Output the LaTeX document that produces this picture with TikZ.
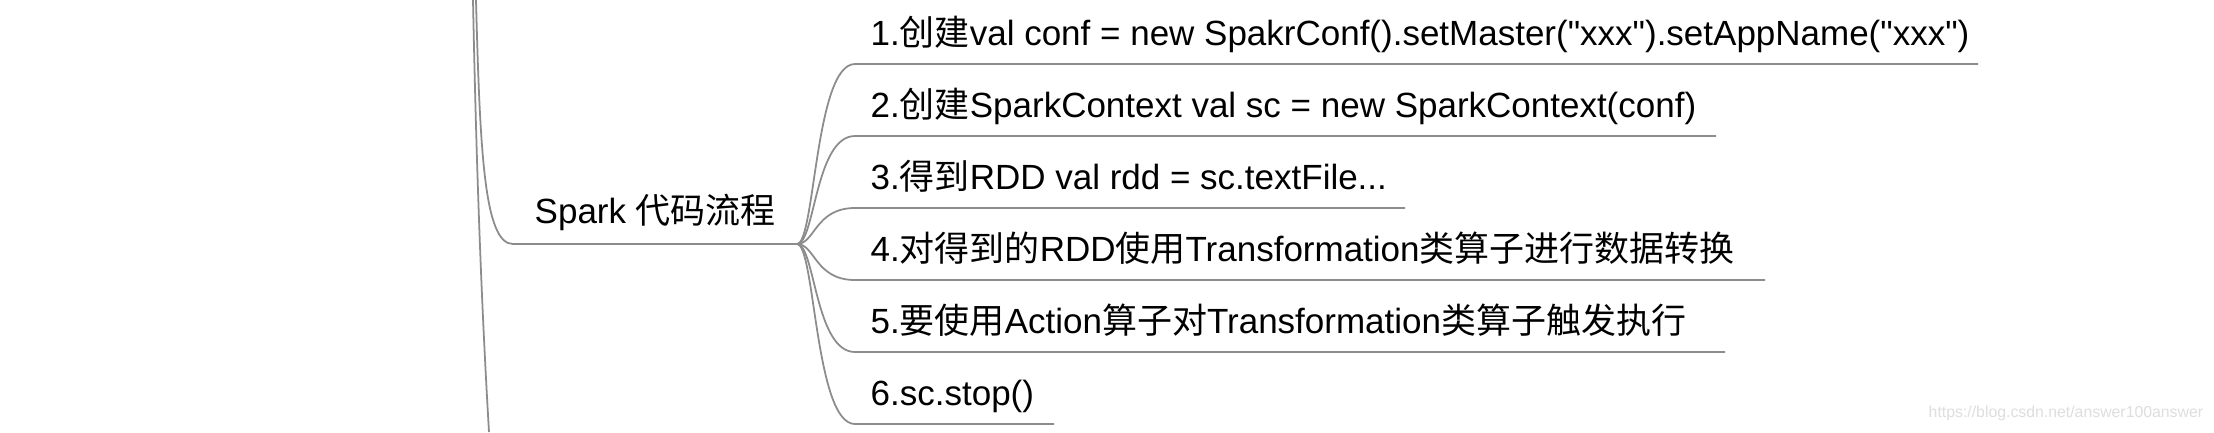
\documentclass[tikz,border=0pt]{standalone}
\usepackage{fontspec}
\setmainfont{Liberation Sans}[Ligatures=TeXOff]
\newfontfamily\cjk{Noto Sans CJK SC}
\definecolor{linegray}{RGB}{140,140,140}
\definecolor{wmgray}{RGB}{222,222,222}
\tikzset{
  branch/.style={draw=linegray, line width=0.5pt},
  lbl/.style={anchor=base west, inner sep=0pt, font=\fontsize{9.95pt}{12pt}\selectfont, text=black},
  wm/.style={anchor=base west, inner sep=0pt, font=\fontsize{4.5pt}{5.5pt}\selectfont, text=wmgray}
}
\begin{document}
\begin{tikzpicture}[x=0.01cm, y=-0.01cm]
\useasboundingbox[fill=white] (0,0) rectangle (2214,432);

% parent branches
\coordinate (ptopA) at (476,0);
\coordinate (ptopB) at (473,0);
\coordinate (pbot) at (489,432);
\coordinate (sparkL) at (513,244);
\coordinate (jct) at (797,244);
\draw[branch] (ptopA) .. controls (480,150) and (484,244) .. (sparkL) -- (jct);
\draw[branch] (ptopB) .. controls (477,200) and (483,330) .. (pbot);
\node[lbl] (spark) at (534,223) {Spark {\cjk 代码流程}};

% children underline coordinates
\coordinate (s1) at (855,64);   \coordinate (e1) at (1978,64);
\coordinate (s2) at (855,136);  \coordinate (e2) at (1716,136);
\coordinate (s3) at (855,208);  \coordinate (e3) at (1405,208);
\coordinate (s4) at (855,280);  \coordinate (e4) at (1765,280);
\coordinate (s5) at (855,352);  \coordinate (e5) at (1725,352);
\coordinate (s6) at (855,424);  \coordinate (e6) at (1054,424);

\foreach \k/\y in {1/64,2/136,3/208,4/280,5/352,6/424}{
  \draw[branch] (jct) .. controls (815,244) and (815,\y) .. (s\k) -- (e\k);
}

\node[lbl] (c1) at (870,45) {1.{\cjk 创建}val conf = new SpakrConf().setMaster("xxx").setAppName("xxx")};
\node[lbl] (c2) at (870,117) {2.{\cjk 创建}SparkContext val sc = new SparkContext(conf)};
\node[lbl] (c3) at (870,189) {3.{\cjk 得到}RDD val rdd = sc.textFile...};
\node[lbl] (c4) at (870,261) {4.{\cjk 对得到的}RDD{\cjk 使用}Transformation{\cjk 类算子进行数据转换}};
\node[lbl] (c5) at (870,333) {5.{\cjk 要使用}Action{\cjk 算子对}Transformation{\cjk 类算子触发执行}};
\node[lbl] (c6) at (870,405) {6.sc.stop()};

\node[wm] (wmark) at (1928,417) {https://blog.csdn.net/answer100answer};
\end{tikzpicture}
\end{document}
